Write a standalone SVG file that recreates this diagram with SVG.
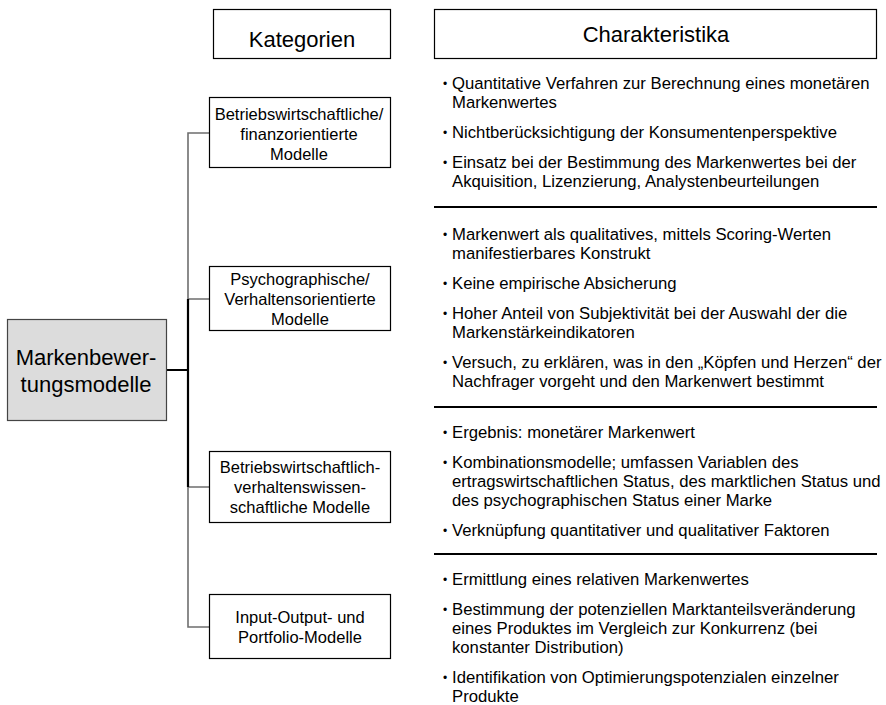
<svg xmlns="http://www.w3.org/2000/svg" width="886" height="705" viewBox="0 0 886 705">
  <style>
    .box { fill: #ffffff; stroke: #000000; stroke-width: 1.2; }
    .root { fill: #dcdcdc; stroke: #444444; stroke-width: 1.2; }
    .t { font-family: "Liberation Sans", Arial, sans-serif; fill: #000000; }
    .head { font-size: 22px; text-anchor: middle; }
    .cat { font-size: 16.5px; text-anchor: middle; }
    .item { font-size: 16.7px; }
    .bullet { font-size: 12px; }
    .tree { stroke: #6e6e6e; stroke-width: 1.6; fill: none; }
    .trunk { stroke: #000000; stroke-width: 2.2; fill: none; }
    .sep { stroke: #000000; stroke-width: 2; }
  </style>

  <!-- column headers -->
  <g id="header-kategorien">
    <rect class="box" x="213.5" y="9.5" width="177" height="49"/>
    <text class="t head" x="302" y="47">Kategorien</text>
  </g>
  <g id="header-charakteristika">
    <rect class="box" x="434.5" y="9.5" width="442" height="49"/>
    <text class="t head" x="656" y="42">Charakteristika</text>
  </g>

  <!-- tree connectors -->
  <g id="connectors">
    <path class="tree" d="M209 133 H188 V627 H209"/>
    <path class="tree" d="M188 299 H209 M188 487 H209"/>
    <path class="trunk" d="M188 299 V487 M167 370 H188"/>
  </g>

  <!-- root node -->
  <g id="root">
    <rect class="root" x="7.5" y="319.5" width="159" height="101"/>
    <text class="t head" x="86" y="365">Markenbewer-</text>
    <text class="t head" x="86" y="392">tungsmodelle</text>
  </g>

  <!-- category nodes -->
  <g id="cat-finanz">
    <rect class="box" x="209.5" y="97.5" width="181" height="70"/>
    <text class="t cat" x="299" y="120">Betriebswirtschaftliche/</text>
    <text class="t cat" x="299" y="140">finanzorientierte</text>
    <text class="t cat" x="299" y="160">Modelle</text>
  </g>
  <g id="cat-verhalten">
    <rect class="box" x="209.5" y="266.5" width="181" height="64"/>
    <text class="t cat" x="300" y="285">Psychographische/</text>
    <text class="t cat" x="300" y="305">Verhaltensorientierte</text>
    <text class="t cat" x="300" y="325">Modelle</text>
  </g>
  <g id="cat-kombi">
    <rect class="box" x="209.5" y="451.5" width="181" height="71"/>
    <text class="t cat" x="300" y="473">Betriebswirtschaftlich-</text>
    <text class="t cat" x="300" y="493">verhaltenswissen-</text>
    <text class="t cat" x="300" y="513">schaftliche Modelle</text>
  </g>
  <g id="cat-portfolio">
    <rect class="box" x="209.5" y="594.5" width="181" height="64"/>
    <text class="t cat" x="300" y="623">Input-Output- und</text>
    <text class="t cat" x="300" y="643">Portfolio-Modelle</text>
  </g>

  <!-- section separators -->
  <g id="separators">
    <line class="sep" x1="434" y1="207" x2="877" y2="207"/>
    <line class="sep" x1="434" y1="407" x2="877" y2="407"/>
    <line class="sep" x1="434" y1="554" x2="877" y2="554"/>
  </g>

  <!-- characteristics: financial models -->
  <g id="char-finanz" class="t item">
    <text class="bullet" x="443" y="88">•</text>
    <text x="452" y="89">Quantitative Verfahren zur Berechnung eines monetären</text>
    <text x="452" y="108">Markenwertes</text>
    <text class="bullet" x="443" y="137">•</text>
    <text x="452" y="138">Nichtberücksichtigung der Konsumentenperspektive</text>
    <text class="bullet" x="443" y="167">•</text>
    <text x="452" y="168">Einsatz bei der Bestimmung des Markenwertes bei der</text>
    <text x="452" y="187">Akquisition, Lizenzierung, Analystenbeurteilungen</text>
  </g>

  <!-- characteristics: behavioural models -->
  <g id="char-verhalten" class="t item">
    <text class="bullet" x="443" y="239">•</text>
    <text x="452" y="240">Markenwert als qualitatives, mittels Scoring-Werten</text>
    <text x="452" y="259">manifestierbares Konstrukt</text>
    <text class="bullet" x="443" y="288">•</text>
    <text x="452" y="289">Keine empirische Absicherung</text>
    <text class="bullet" x="443" y="318">•</text>
    <text x="452" y="319">Hoher Anteil von Subjektivität bei der Auswahl der die</text>
    <text x="452" y="338">Markenstärkeindikatoren</text>
    <text class="bullet" x="443" y="367">•</text>
    <text x="452" y="368">Versuch, zu erklären, was in den „Köpfen und Herzen“ der</text>
    <text x="452" y="387">Nachfrager vorgeht und den Markenwert bestimmt</text>
  </g>

  <!-- characteristics: combined models -->
  <g id="char-kombi" class="t item">
    <text class="bullet" x="443" y="437">•</text>
    <text x="452" y="438">Ergebnis: monetärer Markenwert</text>
    <text class="bullet" x="443" y="467">•</text>
    <text x="452" y="468">Kombinationsmodelle; umfassen Variablen des</text>
    <text x="452" y="487">ertragswirtschaftlichen Status, des marktlichen Status und</text>
    <text x="452" y="506">des psychographischen Status einer Marke</text>
    <text class="bullet" x="443" y="535">•</text>
    <text x="452" y="536">Verknüpfung quantitativer und qualitativer Faktoren</text>
  </g>

  <!-- characteristics: input-output and portfolio models -->
  <g id="char-portfolio" class="t item">
    <text class="bullet" x="443" y="584">•</text>
    <text x="452" y="585">Ermittlung eines relativen Markenwertes</text>
    <text class="bullet" x="443" y="614">•</text>
    <text x="452" y="615">Bestimmung der potenziellen Marktanteilsveränderung</text>
    <text x="452" y="634">eines Produktes im Vergleich zur Konkurrenz (bei</text>
    <text x="452" y="653">konstanter Distribution)</text>
    <text class="bullet" x="443" y="682">•</text>
    <text x="452" y="683">Identifikation von Optimierungspotenzialen einzelner</text>
    <text x="452" y="702">Produkte</text>
  </g>
</svg>
